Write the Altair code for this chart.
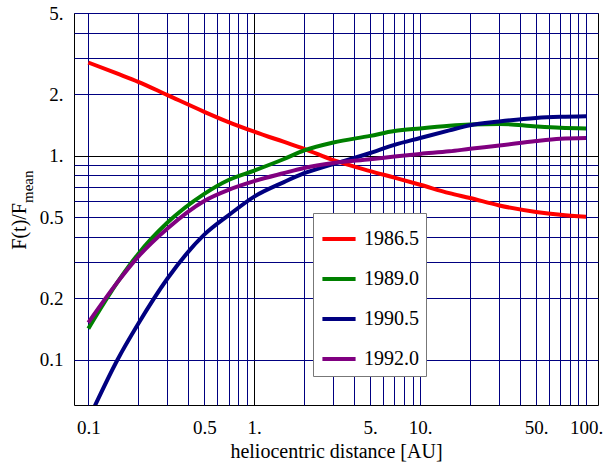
import altair as alt
import pandas as pd

# ---- data ----
EPOCHS = ["1986.5", "1989.0", "1990.5", "1992.0"]
COLORS = ["#ff0000", "#008000", "#000080", "#800080"]

dist_common = [0.1, 0.15, 0.2, 0.3, 0.5, 0.7, 1, 1.5, 2, 3, 5, 7, 10, 15, 20, 30, 50, 70, 100]
red = [2.86, 2.52, 2.30, 1.98, 1.64, 1.46, 1.31, 1.17, 1.08, 0.95, 0.84, 0.78, 0.72, 0.655, 0.62, 0.57, 0.53, 0.513, 0.502]
green = [0.142, 0.24, 0.33, 0.47, 0.65, 0.76, 0.845, 0.96, 1.06, 1.16, 1.25, 1.32, 1.36, 1.40, 1.42, 1.43, 1.39, 1.37, 1.36]
purple = [0.152, 0.24, 0.32, 0.44, 0.60, 0.68, 0.75, 0.82, 0.87, 0.92, 0.96, 0.99, 1.02, 1.05, 1.08, 1.12, 1.18, 1.21, 1.22]
dist_blue = [0.108, 0.15, 0.2, 0.3, 0.5, 0.7, 1, 1.5, 2, 3, 5, 7, 10, 15, 20, 30, 50, 70, 100]
blue = [0.058, 0.10, 0.15, 0.25, 0.41, 0.51, 0.63, 0.74, 0.82, 0.91, 1.03, 1.13, 1.22, 1.33, 1.41, 1.47, 1.53, 1.55, 1.56]

X_TICKS = [0.1, 0.2, 0.3, 0.4, 0.5, 0.6, 0.7, 0.8, 0.9,
           1, 2, 3, 4, 5, 6, 7, 8, 9,
           10, 20, 30, 40, 50, 60, 70, 80, 90, 100]
X_LABELS = {0.1: "0.1", 0.5: "0.5", 1: "1.", 5: "5.", 10: "10.", 50: "50.", 100: "100."}
Y_TICKS = [0.1, 0.2, 0.3, 0.4, 0.5, 0.6, 0.7, 0.8, 0.9, 1, 2, 3, 4, 5]
Y_LABELS = {0.1: "0.1", 0.2: "0.2", 0.5: "0.5", 1: "1.", 2: "2.", 5: "5."}

rows = []
for d, v in zip(dist_common, red):
    rows.append({"distance": d, "ratio": v, "epoch": EPOCHS[0]})
for d, v in zip(dist_common, green):
    rows.append({"distance": d, "ratio": v, "epoch": EPOCHS[1]})
for d, v in zip(dist_blue, blue):
    rows.append({"distance": d, "ratio": v, "epoch": EPOCHS[2]})
for d, v in zip(dist_common, purple):
    rows.append({"distance": d, "ratio": v, "epoch": EPOCHS[3]})
df = pd.DataFrame(rows)


def label_expr(mapping):
    expr = "''"
    for k, s in reversed(list(mapping.items())):
        expr = f"abs(datum.value - {k}) < {k}*1e-6 ? '{s}' : ({expr})"
    return expr


FONT = "Liberation Serif"
LFONT = "Liberation Serif, Times New Roman, serif"
grid_color = {"condition": {"test": "abs(datum.value - 1) < 1e-9", "value": "#000000"},
              "value": "#000080"}

lines = alt.Chart(df).mark_line(strokeWidth=4, clip=True, interpolate="monotone").encode(
    x=alt.X("distance:Q",
            scale=alt.Scale(type="log", domain=[0.082, 118], nice=False),
            axis=alt.Axis(values=X_TICKS, labelExpr=label_expr(X_LABELS),
                          title="heliocentric distance [AU]", titleFont=FONT,
                          titleFontSize=20, titleFontWeight="normal", titleColor="black",
                          titlePadding=4,
                          labelFont=LFONT, labelFontSize=19, labelColor="black",
                          labelFontWeight="normal",
                          labelPadding=13, ticks=False, tickSize=0, domain=False,
                          grid=True, gridColor=grid_color, gridWidth=1, gridOpacity=1,
                          labelFlush=False, labelOverlap=False)),
    y=alt.Y("ratio:Q",
            scale=alt.Scale(type="log", domain=[0.06, 5], nice=False),
            axis=alt.Axis(values=Y_TICKS, labelExpr=label_expr(Y_LABELS),
                          title=None,
                          labelFont=LFONT, labelFontSize=19, labelColor="black",
                          labelFontWeight="normal",
                          labelPadding=11, ticks=False, tickSize=0, domain=False,
                          grid=True, gridColor=grid_color, gridWidth=1, gridOpacity=1,
                          labelFlush=False, labelOverlap=False)),
    color=alt.Color("epoch:N",
                    scale=alt.Scale(domain=EPOCHS, range=COLORS),
                    legend=alt.Legend(title=None, orient="none", legendX=239, legendY=200,
                                      symbolType="stroke", symbolSize=1100,
                                      symbolStrokeWidth=4, labelFont=LFONT,
                                      labelFontWeight="normal",
                                      labelFontSize=20, labelColor="black",
                                      labelOffset=6, rowPadding=11, padding=7,
                                      strokeColor="#777777", fillColor="white")),
    order=alt.Order("distance:Q"),
)

title_df = pd.DataFrame({"t": ["F(t)/F"], "s": ["mean"]})
ytitle_main = alt.Chart(title_df).mark_text(
    angle=270, align="right", baseline="alphabetic", font=FONT, fontSize=20, color="black"
).encode(text="t:N", x=alt.value(-48), y=alt.value(190))
ytitle_sub = alt.Chart(title_df).mark_text(
    angle=270, align="left", baseline="alphabetic", font=FONT, fontSize=15, color="black"
).encode(text="s:N", x=alt.value(-41), y=alt.value(190))

chart = alt.layer(lines, ytitle_main, ytitle_sub).properties(
    width=524, height=392,
    autosize=alt.AutoSizeParams(type="none"),
    padding={"left": 74, "top": 13, "right": 6, "bottom": 62},
    background="white",
).configure(font=FONT).configure_axis(
    labelFont=LFONT, titleFont=FONT
).configure_legend(
    labelFont=LFONT
).configure_view(stroke="black", strokeWidth=1)

chart.save("out.html", embed_options={"renderer": "svg", "actions": False})
